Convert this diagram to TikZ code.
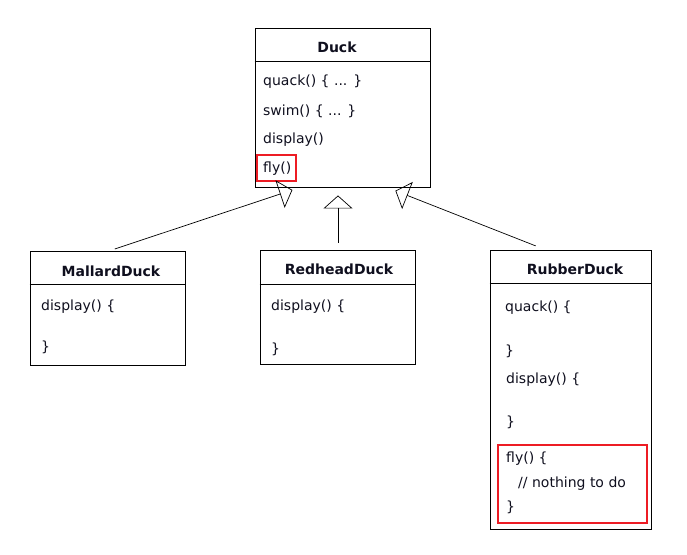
\documentclass[tikz,border=0pt]{standalone}
\usepackage{fontspec}
\setmainfont{DejaVu Sans}
\usetikzlibrary{arrows.meta, positioning, calc}
\definecolor{markred}{RGB}{237,28,36}
\definecolor{textdark}{RGB}{15,15,30}
\tikzstyle{classbox} = [rectangle, draw=black, line width=0.9pt, inner sep=0pt]
\tikzstyle{classname} = [font=\fontsize{14}{16}\selectfont\bfseries, text=textdark]
\tikzstyle{method} = [anchor=west, inner sep=0pt, font=\fontsize{14}{16}\selectfont, text=textdark]
\tikzstyle{highlight} = [rectangle, draw=markred, line width=2pt, inner sep=0pt]
\tikzstyle{inherit} = [line width=0.7pt, -{Triangle[open, length=13pt, width=29pt]}]

\begin{document}
\begin{tikzpicture}[x=1pt, y=-1pt]
\useasboundingbox (0,0) rectangle (687,554);

% Duck
\node[classbox, minimum width=175pt, minimum height=159pt] (duck) at (342.5,107.5) {};
\node[classname] (duck_name) at (337,47) {Duck};
\draw[line width=0.9pt] (duck.west |- 0,61) -- (duck.east |- 0,61);
\node[method] (duck_quack) at (263,82) {quack() \{ ... \}};
\node[method] (duck_swim) at (263,111) {swim() \{ ... \}};
\node[method] (duck_display) at (263,140) {display()};
\node[method] (duck_fly) at (263,169) {fly()};
\node[highlight, minimum width=39pt, minimum height=26pt] (duck_mark) at (276.5,168) {};

% MallardDuck
\node[classbox, minimum width=155pt, minimum height=114pt] (mallard) at (107.5,308) {};
\node[classname] (mallard_name) at (111,271) {MallardDuck};
\draw[line width=0.9pt] (mallard.west |- 0,284) -- (mallard.east |- 0,284);
\node[method] (mallard_display) at (41,307) {display() \{};
\node[method] (mallard_close) at (41,347) {\}};

% RedheadDuck
\node[classbox, minimum width=155pt, minimum height=114pt] (redhead) at (337.5,307) {};
\node[classname] (redhead_name) at (339,269) {RedheadDuck};
\draw[line width=0.9pt] (redhead.west |- 0,284) -- (redhead.east |- 0,284);
\node[method] (redhead_display) at (271,307) {display() \{};
\node[method] (redhead_close) at (271,349) {\}};

% RubberDuck
\node[classbox, minimum width=161pt, minimum height=279pt] (rubber) at (570.5,389.5) {};
\node[classname] (rubber_name) at (575,269) {RubberDuck};
\draw[line width=0.9pt] (rubber.west |- 0,283) -- (rubber.east |- 0,283);
\node[method] (rubber_quack) at (505,308) {quack() \{};
\node[method] (rubber_qclose) at (505,351) {\}};
\node[method] (rubber_display) at (506,380) {display() \{};
\node[method] (rubber_dclose) at (506,422) {\}};
\node[method] (rubber_fly) at (506,459) {fly() \{};
\node[method] (rubber_comment) at (518,484) {// nothing to do};
\node[method] (rubber_fclose) at (506,507) {\}};
\node[highlight, minimum width=149pt, minimum height=78pt] (rubber_mark) at (572.5,484) {};

% Inheritance
\draw[inherit, shorten <=5pt, shorten >=8pt] ([xshift=2.5pt]mallard.north) -- ([xshift=-42.5pt]duck.south);
\draw[inherit, shorten <=7pt, shorten >=8pt] ([xshift=0.5pt]redhead.north) -- ([xshift=-4.5pt]duck.south);
\draw[inherit, shorten <=10pt, shorten >=9pt] ([xshift=-25.5pt]rubber.north) -- ([xshift=44.5pt]duck.south);

\end{tikzpicture}
\end{document}
